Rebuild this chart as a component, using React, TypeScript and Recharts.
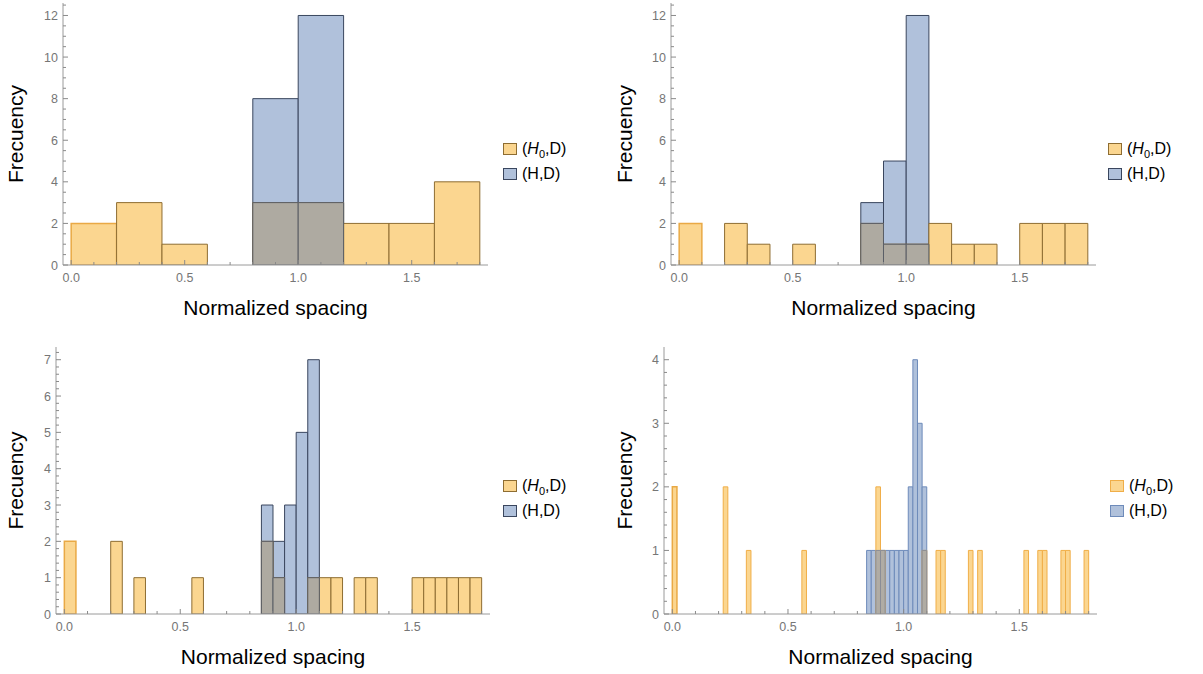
import React from "react";
import { ComposedChart, Bar, XAxis, YAxis, Legend, Cell } from "recharts";

const FONT = "Arial, 'Liberation Sans', Helvetica, sans-serif";
const AXIS = "#9a9a9a";
const TICK = "#8a8a8a";
const TICK_TEXT = "#767676";

// bin centres and counts
// top-left: bins of 0.2
const p1Centers = [0.1, 0.3, 0.5, 0.7, 0.9, 1.1, 1.3, 1.5, 1.7];
const p1H0 = [2, 3, 1, 0, 3, 3, 2, 2, 4];
const p1H = [0, 0, 0, 0, 8, 12, 0, 0, 0];

// top-right: bins of 0.1
const p2Centers = [
  0.05, 0.15, 0.25, 0.35, 0.45, 0.55, 0.65, 0.75, 0.85, 0.95, 1.05, 1.15, 1.25,
  1.35, 1.45, 1.55, 1.65, 1.75,
];
const p2H0 = [2, 0, 2, 1, 0, 1, 0, 0, 2, 1, 1, 2, 1, 1, 0, 2, 2, 2];
const p2H = [0, 0, 0, 0, 0, 0, 0, 0, 3, 5, 12, 0, 0, 0, 0, 0, 0, 0];

// bottom-left: bins of 0.05 (only non-empty bins)
const p3Centers = [
  0.025, 0.225, 0.325, 0.575, 0.875, 0.925, 0.975, 1.025, 1.075, 1.125, 1.175,
  1.275, 1.325, 1.525, 1.575, 1.625, 1.675, 1.725, 1.775,
];
const p3H0 = [2, 2, 1, 1, 2, 1, 0, 0, 1, 1, 1, 1, 1, 1, 1, 1, 1, 1, 1];
const p3H = [0, 0, 0, 0, 3, 2, 3, 5, 7, 0, 0, 0, 0, 0, 0, 0, 0, 0, 0];

// bottom-right: bins of 0.02 (only non-empty bins)
const p4Centers = [
  0.01, 0.23, 0.33, 0.57, 0.85, 0.87, 0.89, 0.91, 0.93, 0.95, 0.97, 0.99, 1.01,
  1.03, 1.05, 1.07, 1.09, 1.15, 1.17, 1.29, 1.33, 1.53, 1.59, 1.61, 1.69, 1.71,
  1.79,
];
const p4H0 = [
  2, 2, 1, 1, 0, 0, 2, 1, 0, 0, 0, 0, 0, 0, 0, 0, 1, 1, 1, 1, 1, 1, 1, 1, 1, 1, 1,
];
const p4H = [
  0, 0, 0, 0, 1, 1, 1, 1, 1, 1, 1, 1, 1, 2, 4, 3, 2, 0, 0, 0, 0, 0, 0, 0, 0, 0, 0,
];

const xMajor = [0, 0.5, 1, 1.5];
const yMajor12 = [0, 2, 4, 6, 8, 10, 12];
const yMajor7 = [0, 1, 2, 3, 4, 5, 6, 7];
const yMajor4 = [0, 1, 2, 3, 4];

const xLabel = "Normalized spacing";
const yLabel = "Frecuency";

const steps = (from: number, to: number, step: number) => {
  const out: number[] = [];
  const n = Math.round((to - from) / step);
  for (let i = 0; i <= n; i++) out.push(Math.round((from + i * step) * 1000) / 1000);
  return out;
};

const xTicks = steps(0, 1.8, 0.1);

const isMajor = (v: number, majors: number[]) =>
  majors.some((m) => Math.abs(m - v) < 1e-6);

const thick = {
  blue: "#B0C1DB",
  blueEdge: "#3A465E",
  orange: "#FBD690",
  orangeEdge: "#8E6D32",
  orangeHalo: "#E9A945",
  gray: "#AEAAA1",
  grayEdge: "#5A5E66",
};
const thin = {
  blue: "#B0C1DB",
  blueEdge: "#6E8BBA",
  orange: "#FBD690",
  orangeEdge: "#F0AE48",
  orangeHalo: "#E9A945",
  gray: "#B0ACA4",
  grayEdge: "#8A8D96",
};

const panels = [
  {
    left: 0, top: 0, width: 600, height: 335,
    margin: { top: 3, right: 112, bottom: 10, left: 0 },
    yWidth: 63, xHeight: 60, yLabelOffset: 16,
    yMax: 12.6, yTicks: steps(0, 12.5, 0.5), yMajor: yMajor12,
    bin: 0.2, centers: p1Centers, h0: p1H0, h: p1H, colors: thick,
    legendLeft: 503, legendTop: 136,
  },
  {
    left: 600, top: 0, width: 603, height: 335,
    margin: { top: 3, right: 107, bottom: 10, left: 0 },
    yWidth: 71, xHeight: 60, yLabelOffset: 25,
    yMax: 12.6, yTicks: steps(0, 12.5, 0.5), yMajor: yMajor12,
    bin: 0.1, centers: p2Centers, h0: p2H0, h: p2H, colors: thick,
    legendLeft: 508, legendTop: 136,
  },
  {
    left: 0, top: 340, width: 600, height: 334,
    margin: { top: 7, right: 110, bottom: 5, left: 0 },
    yWidth: 56, xHeight: 55, yLabelOffset: 16,
    yMax: 7.35, yTicks: steps(0, 7.2, 0.2), yMajor: yMajor7,
    bin: 0.05, centers: p3Centers, h0: p3H0, h: p3H, colors: thick,
    legendLeft: 503, legendTop: 133,
  },
  {
    left: 600, top: 340, width: 603, height: 334,
    margin: { top: 7, right: 106, bottom: 5, left: 0 },
    yWidth: 64, xHeight: 55, yLabelOffset: 25,
    yMax: 4.2, yTicks: steps(0, 4, 0.2), yMajor: yMajor4,
    bin: 0.02, centers: p4Centers, h0: p4H0, h: p4H, colors: thin,
    legendLeft: 510, legendTop: 133,
  },
];

const XTick = (props: any) => {
  const { x, y, payload } = props;
  const v = payload.value as number;
  const major = isMajor(v, xMajor);
  return (
    <g>
      <line x1={x} x2={x} y1={y} y2={y - (major ? 5 : 3)} stroke={TICK} />
      {major && (
        <text x={x} y={y + 16.5} textAnchor="middle" fontSize={12.5} fill={TICK_TEXT} fontFamily={FONT}>
          {v.toFixed(1)}
        </text>
      )}
    </g>
  );
};

const YTick = (props: any) => {
  const { x, y, payload, majors } = props;
  const v = payload.value as number;
  const major = isMajor(v, majors);
  return (
    <g>
      <line x1={x} x2={x + (major ? 5 : 3)} y1={y} y2={y} stroke={TICK} />
      {major && (
        <text x={x - 5} y={y} dy="0.36em" textAnchor="end" fontSize={12.5} fill={TICK_TEXT} fontFamily={FONT}>
          {v}
        </text>
      )}
    </g>
  );
};

const HistLegend = ({ colors }: { colors: typeof thick }) => {
  const rows = [
    { fill: colors.orange, edge: colors.orangeEdge, name: "H0" },
    { fill: colors.blue, edge: colors.blueEdge, name: "H" },
  ];
  return (
    <div style={{ fontFamily: FONT, fontSize: 16, color: "#000" }}>
      {rows.map((r) => (
        <div key={r.name} style={{ display: "flex", alignItems: "center", height: 25 }}>
          <span
            style={{
              display: "inline-block",
              width: 12,
              height: 10,
              background: r.fill,
              border: `1px solid ${r.edge}`,
              marginRight: 5,
            }}
          />
          {r.name === "H0" ? (
            <span>
              (<i>H</i>
              <span style={{ fontSize: 11, position: "relative", top: 4 }}>0</span>,D)
            </span>
          ) : (
            <span>(H,D)</span>
          )}
        </div>
      ))}
    </div>
  );
};

function Panel({ cfg }: { cfg: (typeof panels)[number] }) {
  const rows = cfg.centers.map((c, i) => ({
    x: c,
    h: cfg.h[i] || null,
    h0: cfg.h0[i] || null,
    both: Math.min(cfg.h[i], cfg.h0[i]) || null,
  }));
  const xDomain = [-0.036, 1.836];
  const plotW = cfg.width - cfg.margin.left - cfg.margin.right - cfg.yWidth;
  const barSize = (cfg.bin * plotW) / (xDomain[1] - xDomain[0]) - 0.01;
  const c = cfg.colors;

  return (
    <div style={{ position: "absolute", left: cfg.left, top: cfg.top }}>
      <ComposedChart
        width={cfg.width}
        height={cfg.height}
        data={rows}
        margin={cfg.margin}
        barGap={-barSize}
        barCategoryGap={0}
      >
        <XAxis
          dataKey="x"
          type="number"
          domain={xDomain}
          allowDataOverflow
          ticks={xTicks}
          interval={0}
          tickSize={0}
          tickMargin={0}
          tickLine={false}
          axisLine={{ stroke: AXIS }}
          tick={(p: any) => <XTick {...p} />}
          height={cfg.xHeight}
          label={{
            value: xLabel,
            position: "insideTop",
            offset: 35,
            fontSize: 21,
            fill: "#000",
            fontFamily: FONT,
          }}
        />
        <YAxis
          type="number"
          domain={[0, cfg.yMax]}
          allowDataOverflow
          ticks={cfg.yTicks}
          interval={0}
          tickSize={0}
          tickMargin={0}
          tickLine={false}
          axisLine={{ stroke: AXIS }}
          tick={(p: any) => <YTick {...p} majors={cfg.yMajor} />}
          width={cfg.yWidth}
          label={{
            value: yLabel,
            angle: -90,
            position: "insideLeft",
            offset: cfg.yLabelOffset,
            fontSize: 21,
            fill: "#000",
            fontFamily: FONT,
            style: { textAnchor: "middle" },
          }}
        />
        <Bar dataKey="h" barSize={barSize} fill={c.blue} stroke={c.blueEdge} strokeWidth={1} isAnimationActive={false} />
        <Bar dataKey="h0" barSize={barSize} fill={c.orange} stroke={c.orangeEdge} strokeWidth={1} isAnimationActive={false}>
          {rows.map((r, i) => (
            <Cell
              key={i}
              stroke={i === 0 ? c.orangeHalo : c.orangeEdge}
              strokeWidth={i === 0 ? 1.5 : 1}
            />
          ))}
        </Bar>
        <Bar dataKey="both" barSize={barSize} fill={c.gray} stroke={c.grayEdge} strokeWidth={1} isAnimationActive={false} />
        <Legend
          layout="horizontal"
          verticalAlign="middle"
          align="center"
          wrapperStyle={{ left: cfg.legendLeft, top: cfg.legendTop, width: "auto" }}
          content={() => <HistLegend colors={c} />}
        />
      </ComposedChart>
    </div>
  );
}

export default function App() {
  return (
    <div style={{ position: "absolute", left: 0, top: 0, width: 1203, height: 674, background: "#fff" }}>
      {panels.map((p, i) => (
        <Panel key={i} cfg={p} />
      ))}
    </div>
  );
}
